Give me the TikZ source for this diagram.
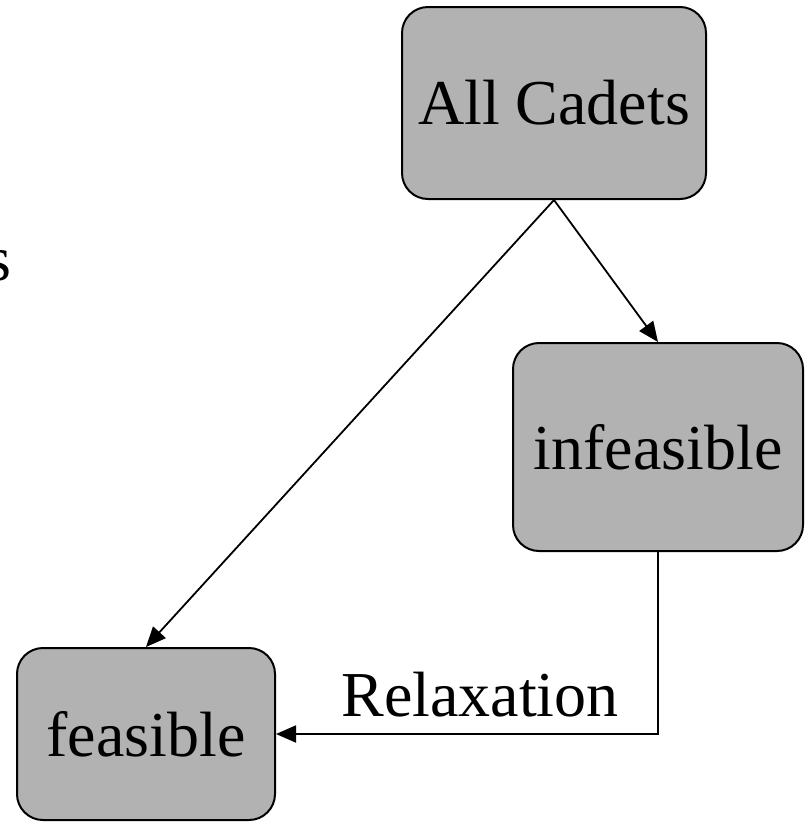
\documentclass[tikz,border=0pt]{standalone}
\usepackage{fontspec}
\setmainfont{Liberation Serif}
\usetikzlibrary{arrows.meta}
\begin{document}
\begin{tikzpicture}[x=1pt,y=-1pt,
  every node/.style={font=\fontsize{64}{76}\selectfont},
  box/.style={draw, line width=2pt, fill=black!30, rounded corners=26pt, inner sep=0pt},
  flow/.style={line width=1.8pt, -{Triangle[length=20pt,width=17pt]}}]
  \useasboundingbox (0,0) rectangle (805,822);
  \path (554,103) node[box, minimum width=304pt, minimum height=192pt] (all){All Cadets}
    (658,447) node[box, minimum width=290pt, minimum height=208pt] (inf){infeasible}
    (146,734) node[box, minimum width=258pt, minimum height=172pt] (feas){feasible};
  \node[anchor=base east, inner sep=0pt] (cut) at (12,280) {s};
  \draw[flow] (all.south) -- (inf.north);
  \draw[flow] (all.south) -- (feas.north);
  \draw[flow] (inf.south) |- (feas.east)
    node[anchor=base, pos=0.733, yshift=18pt, inner sep=0pt] (relax){Relaxation};
\end{tikzpicture}
\end{document}
